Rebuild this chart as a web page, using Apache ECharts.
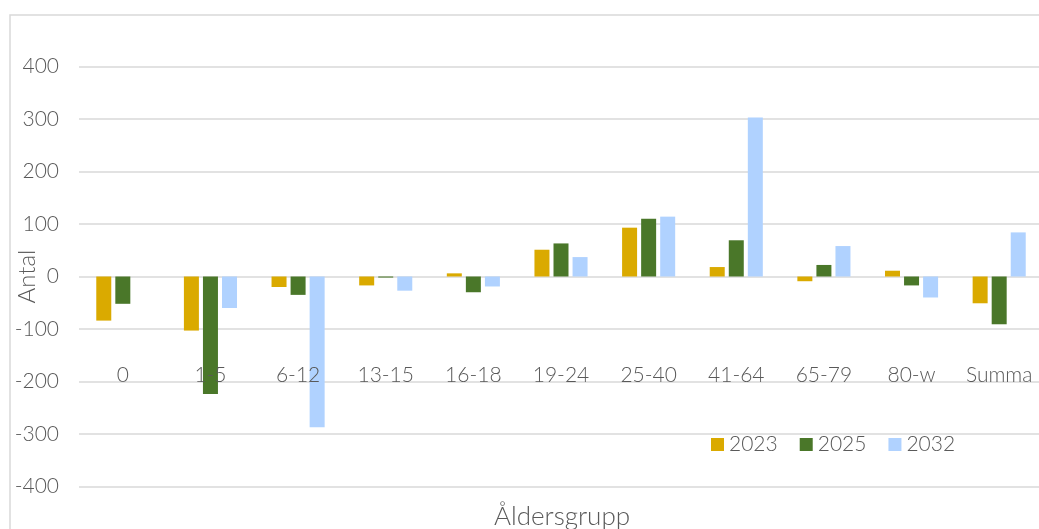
<!DOCTYPE html>
<html>
<head>
<meta charset="utf-8">
<script src="https://cdn.jsdelivr.net/npm/echarts@6/dist/echarts.min.js"></script>
<style>
  html, body { margin: 0; padding: 0; background: #ffffff; }
  #chart { width: 1039px; height: 529px; }
</style>
</head>
<body>
<div id="chart"></div>
<script>
const categories = ['0', '1-5', '6-12', '13-15', '16-18', '19-24', '25-40', '41-64', '65-79', '80-w', 'Summa'];
const seriesNames = ['2023', '2025', '2032'];
const values2023 = [-84, -103, -20, -17, 6, 51, 93, 18, -9, 11, -51];
const values2025 = [-52, -224, -35, -2, -30, 63, 110, 69, 22, -17, -91];
const values2032 = [0, -60, -287, -27, -19, 37, 114, 303, 58, -40, 84];
const yTicks = [-400, -300, -200, -100, 0, 100, 200, 300, 400];
const colors = ['#DAAA00', '#4A7729', '#B0D2FF'];

const FONT = 'Lato, "Open Sans", "Noto Sans", sans-serif';
const TXT = '#595959';
const GRID = '#d9d9d9';

const chart = echarts.init(document.getElementById('chart'), null, { renderer: 'canvas' });

const seriesData = [values2023, values2025, values2032];

chart.setOption({
  backgroundColor: '#ffffff',
  animation: false,
  color: colors,
  textStyle: { fontFamily: FONT, fontWeight: 300, color: TXT },
  graphic: [{
    type: 'rect',
    shape: { x: 10, y: 15, width: 1200, height: 700 },
    style: { fill: 'none', stroke: GRID, lineWidth: 1.5 },
    silent: true,
    z: -10
  }],
  title: {
    text: 'Åldersgrupp',
    left: 494,
    top: 504,
    padding: 0,
    textStyle: { fontFamily: FONT, fontWeight: 300, fontSize: 26, color: TXT }
  },
  legend: {
    data: seriesNames,
    left: 711,
    top: 434,
    padding: 0,
    itemWidth: 13,
    itemHeight: 13,
    itemGap: 22,
    icon: 'rect',
    textStyle: { fontFamily: FONT, fontWeight: 300, fontSize: 21, color: TXT, padding: [0, 0, 0, 0] }
  },
  grid: {
    left: 79,
    top: 66.5,
    width: 964,
    height: 420,
    containLabel: false,
    outerBoundsMode: 'none'
  },
  xAxis: {
    type: 'category',
    position: 'bottom',
    z: 10,
    data: categories,
    axisLine: { show: false, onZero: false },
    axisTick: { show: false },
    splitLine: { show: false },
    axisLabel: {
      margin: -111,
      verticalAlign: 'middle',
      fontFamily: FONT,
      fontWeight: 300,
      fontSize: 21,
      color: TXT,
      interval: 0,
      hideOverlap: false
    }
  },
  yAxis: {
    type: 'value',
    min: yTicks[0],
    max: yTicks[yTicks.length - 1],
    interval: 100,
    name: 'Antal',
    nameLocation: 'middle',
    nameGap: 40,
    nameMoveOverlap: false,
    nameTextStyle: { fontFamily: FONT, fontWeight: 300, fontSize: 24, color: TXT },
    axisLine: { show: false },
    axisTick: { show: false },
    splitLine: { show: true, lineStyle: { color: GRID, width: 1.5 } },
    axisLabel: {
      margin: 20,
      fontFamily: FONT,
      fontWeight: 300,
      fontSize: 21,
      color: TXT
    }
  },
  series: seriesNames.map((name, i) => ({
    name: name,
    type: 'bar',
    data: seriesData[i],
    barWidth: 15,
    barGap: '27%',
    itemStyle: { color: colors[i] }
  }))
});
</script>
</body>
</html>
